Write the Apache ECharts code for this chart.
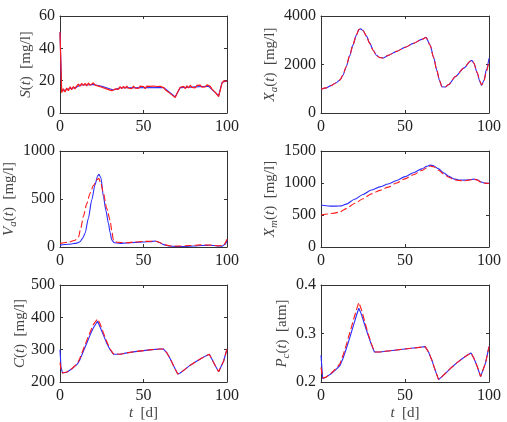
<!DOCTYPE html>
<html>
<head>
<meta charset="utf-8">
<script src="https://cdn.jsdelivr.net/npm/echarts@6/dist/echarts.min.js"></script>
<style>
  html, body { margin: 0; padding: 0; background: #fff; }
  #chart { width: 507px; height: 422px; }
</style>
</head>
<body>
<div id="chart"></div>
<script>
// S(t): noisy measurement (red) and estimate (blue)
const tS = Array.from({ length: 101 }, (_, i) => i)
const sMeas = [50, 12.6, 15, 13, 15.4, 13.8, 16.2, 14.4, 16.4, 14.9,
  16.6, 17.9, 16.5, 18.4, 17, 18.3, 16.8, 18.6, 17.1, 18.2,
  18.7, 17.2, 18.4, 16.6, 17.6, 15.9, 16.9, 15.2, 16.2, 14.5,
  15.4, 13.8, 13.4, 14.9, 15.9, 14.6, 16.3, 15, 16.5, 15.2,
  16.6, 15.3, 16.4, 15.1, 16.7, 15.4, 16.5, 15.2, 16.6, 15.5,
  16.4, 15.1, 16.6, 15.4, 16.5, 15.3, 16.7, 15.5, 16.4, 15.2,
  16.5, 15.6, 15.7, 14.4, 14.3, 12.9, 12.7, 11.2, 11.1, 9.6,
  12.1, 13.9, 15.9, 14.7, 16.5, 15.1, 16.8, 15.5, 17.2, 15.8,
  17, 15.6, 17.1, 15.9, 17.3, 16, 17.2, 16.1, 17.4, 16.2,
  16.5, 14.8, 14.6, 12.8, 11.8, 10.2, 14.3, 18.5, 19.9, 20.2, 19.6]
const tSb = [0, 1, 5, 10, 12, 20, 25, 32, 36, 62, 69, 72, 89, 95, 97, 100]
const sEst = [50, 13.5, 14.8, 16, 17.3, 17.6, 16.5, 14.2, 15.6, 15.8, 10, 15.7, 16.5, 10.8, 18.8, 20]

// X_a(t)
const tXa = [0, 3, 6, 9, 11.3, 13, 15, 17, 19, 21, 22.5, 23.5, 25, 27, 29, 31, 33, 35, 37,
  40, 45, 50, 55, 60, 62.5, 65, 67, 69, 70.5, 72, 74, 76, 80, 85, 89, 89.8, 91, 93, 94.5, 95.6, 97, 98.5, 100]
const xaBlue = [970, 1030, 1130, 1250, 1360, 1550, 1900, 2350, 2800, 3200, 3430, 3470, 3400, 3180, 2880, 2600, 2380, 2290, 2270,
  2375, 2540, 2705, 2870, 3035, 3120, 2800, 2300, 1750, 1350, 1080, 1070, 1170, 1500, 1850, 2140, 2170, 2050, 1650, 1300, 1140, 1350, 1800, 2250]
const xaRed = [975, 1035, 1130, 1250, 1365, 1560, 1910, 2360, 2810, 3210, 3440, 3475, 3400, 3170, 2870, 2590, 2370, 2285, 2270,
  2375, 2540, 2705, 2870, 3035, 3115, 2790, 2290, 1740, 1340, 1080, 1075, 1175, 1505, 1855, 2145, 2175, 2060, 1670, 1330, 1160, 1320, 1720, 2150]

// V_a(t)
const tVa = [0, 5, 10, 12, 13.5, 15, 17, 19, 21, 22.5, 23.3, 24.5, 26, 27.5, 29, 30, 31, 32.5, 36,
  40, 45, 50, 54, 57, 59, 62, 65, 70, 75, 80, 85, 90, 94, 97, 99, 100]
const vaBlue = [20, 28, 40, 55, 90, 142, 300, 490, 650, 740, 757, 720, 524, 380, 246, 150, 73, 45, 38,
  42, 48, 52, 56, 62, 50, 25, 10, 5, 5, 10, 16, 18, 12, 8, 30, 70]
const tVaR = [0, 5, 9, 11, 12.5, 14, 16, 18, 20, 22, 23.2, 24.5, 26, 28, 30, 31, 32, 34,
  40, 45, 50, 55, 58, 60, 63, 67, 72, 78, 84, 90, 95, 98, 100]
const vaRed = [38, 50, 70, 100, 200, 320, 450, 560, 640, 700, 715, 660, 560, 400, 280, 170, 70, 50,
  45, 52, 58, 60, 58, 45, 22, 10, 10, 15, 22, 20, 12, 20, 80]

// X_m(t)
const tXm = [0, 3, 6, 9, 12, 15, 20, 25, 30, 35, 40, 45, 50, 55, 60, 63, 65, 67, 70, 73, 76, 79, 82, 85, 88, 91, 93, 95, 97, 100]
const xmBlue = [656, 645, 638, 638, 642, 670, 745, 820, 890, 940, 985, 1040, 1100, 1160, 1220, 1262, 1280, 1270, 1220, 1160, 1105, 1065, 1048, 1045, 1050, 1060, 1050, 1020, 1000, 995]
const tXmR = [0, 4, 8, 11, 15, 20, 25, 30, 35, 40, 45, 50, 55, 60, 63, 65, 67, 70, 73, 76, 79, 82, 85, 88, 91, 93, 95, 97, 100]
const xmRed = [500, 515, 530, 545, 600, 680, 755, 830, 885, 935, 1000, 1065, 1130, 1195, 1240, 1265, 1255, 1200, 1140, 1090, 1055, 1038, 1035, 1045, 1058, 1048, 1015, 998, 992]

// C(t)
const tC = [0, 0.6, 1.5, 4, 7, 10.5, 12, 14, 16, 18, 20, 22.5, 24, 26, 28, 30, 32, 36, 40, 45, 50, 55, 60, 62,
  64, 66, 68, 70.5, 72, 75, 78, 81, 84, 87, 89.4, 91, 93, 95, 96, 98, 100]
const cBlue = [300, 245, 228, 230, 240, 256, 270, 295, 320, 345, 368, 388, 370, 345, 320, 300, 286, 286, 290, 294, 297, 300, 302, 302,
  290, 272, 250, 225, 228, 240, 252, 262, 271, 280, 286, 270, 250, 232, 230, 265, 302]
const cRed = [260, 238, 228, 231, 241, 258, 275, 302, 328, 354, 378, 395, 380, 352, 325, 302, 287, 286, 290, 294, 297, 300, 302, 302,
  290, 272, 250, 225, 228, 240, 252, 262, 271, 280, 286, 270, 250, 232, 230, 265, 302]

// P_c(t)
const tP = [0, 1, 3, 6, 9, 11.3, 13, 15, 17, 19, 21, 22.5, 24, 26, 28, 30, 31.8, 35, 40, 45, 50, 55, 60, 62,
  64, 66, 68, 70, 72, 75, 78, 81, 84, 87, 89.3, 91, 93, 95, 96, 98, 100]
const pBlue = [0.255, 0.207, 0.21, 0.217, 0.226, 0.234, 0.248, 0.268, 0.29, 0.313, 0.336, 0.352, 0.34, 0.318, 0.297, 0.277, 0.262, 0.262, 0.264, 0.266, 0.268, 0.27, 0.272, 0.273,
  0.262, 0.245, 0.224, 0.205, 0.211, 0.221, 0.231, 0.24, 0.248, 0.255, 0.26, 0.249, 0.232, 0.211, 0.21, 0.24, 0.273]
const pRed = [0.23, 0.208, 0.21, 0.218, 0.228, 0.238, 0.254, 0.276, 0.3, 0.324, 0.348, 0.364, 0.35, 0.325, 0.3, 0.279, 0.262, 0.262, 0.264, 0.266, 0.268, 0.27, 0.272, 0.273,
  0.262, 0.245, 0.224, 0.205, 0.211, 0.221, 0.231, 0.24, 0.248, 0.255, 0.26, 0.249, 0.232, 0.211, 0.21, 0.24, 0.273]

const xTicks = { min: 0, max: 100, interval: 50 }
const yRanges = [
  { min: 0, max: 60, interval: 20 },
  { min: 0, max: 4000, interval: 2000 },
  { min: 0, max: 1000, interval: 500 },
  { min: 0, max: 1500, interval: 500 },
  { min: 200, max: 500, interval: 100 },
  { min: 0.2, max: 0.4, interval: 0.1 }
]
const yNames = [
  '{i|S}{n|(}{i|t}{n|)  [mg/l]}',
  '{i|X}{s|a}{n|(}{i|t}{n|)  [mg/l]}',
  '{i|V}{s|a}{n|(}{i|t}{n|)  [mg/l]}',
  '{i|X}{s|m}{n|(}{i|t}{n|)  [mg/l]}',
  '{i|C}{n|(}{i|t}{n|)  [mg/l]}',
  '{i|P}{s|c}{n|(}{i|t}{n|)  [atm]}'
]
const yNameGaps = [24, 38, 38, 38, 24, 27]

const grids = [
  { left: 60, top: 16, width: 167, height: 97 },
  { left: 321, top: 16, width: 168, height: 97 },
  { left: 60, top: 151, width: 167, height: 96 },
  { left: 321, top: 151, width: 168, height: 96 },
  { left: 60, top: 285, width: 167, height: 97 },
  { left: 321, top: 285, width: 168, height: 97 }
]

const serif = 'Liberation Serif'
const axisColor = '#333'
const rich = {
  i: { fontFamily: serif, fontStyle: 'italic', fontSize: 15, color: '#444', lineHeight: 20 },
  n: { fontFamily: serif, fontSize: 15, color: '#444', lineHeight: 20 },
  s: { fontFamily: serif, fontStyle: 'italic', fontSize: 11, color: '#444', lineHeight: 12, verticalAlign: 'bottom' }
}

const zip = (xs, ys) => xs.map((x, i) => [x, ys[i]])

const xAxis = []
const yAxis = []
grids.forEach((g, i) => {
  const bottomRow = i >= 4
  xAxis.push({
    type: 'value', gridIndex: i, ...xTicks,
    axisLine: { show: true, onZero: false, lineStyle: { color: axisColor } },
    axisTick: { inside: true, length: 3, lineStyle: { color: axisColor } },
    axisLabel: { fontFamily: serif, fontSize: 16, color: '#222', margin: 6, formatter: v => String(v) },
    splitLine: { show: false },
    name: bottomRow ? '{i|t}{n|  [d]}' : '',
    nameLocation: 'middle', nameGap: 21,
    nameTextStyle: { rich }
  })
  yAxis.push({
    type: 'value', gridIndex: i, ...yRanges[i],
    axisLine: { show: true, onZero: false, lineStyle: { color: axisColor } },
    axisTick: { inside: true, length: 3, lineStyle: { color: axisColor } },
    axisLabel: {
      fontFamily: serif, fontSize: 16, color: '#222', margin: 5,
      formatter: i === 5 ? v => v.toFixed(1) : v => String(v)
    },
    splitLine: { show: false },
    name: yNames[i], nameLocation: 'middle', nameRotate: 90, nameGap: yNameGaps[i],
    nameTextStyle: { rich }
  })
})
// mirror axes on top/right for the closed box
grids.forEach((g, i) => {
  xAxis.push({
    type: 'value', gridIndex: i, position: 'top', ...xTicks,
    axisLine: { show: true, onZero: false, lineStyle: { color: axisColor } },
    axisTick: { inside: true, length: 3, lineStyle: { color: axisColor } },
    axisLabel: { show: false }, splitLine: { show: false }
  })
  yAxis.push({
    type: 'value', gridIndex: i, position: 'right', ...yRanges[i],
    axisLine: { show: true, onZero: false, lineStyle: { color: axisColor } },
    axisTick: { inside: true, length: 3, lineStyle: { color: axisColor } },
    axisLabel: { show: false }, splitLine: { show: false }
  })
})

const blue = '#2b2bff'
const red = '#ff1a1a'
function line(idx, data, color, dashed, z) {
  return {
    type: 'line', xAxisIndex: idx, yAxisIndex: idx, data,
    showSymbol: false, smooth: 0.25, smoothMonotone: 'x', z,
    lineStyle: { color, width: 1.1, type: dashed ? [7, 3] : 'solid' },
    animation: false
  }
}

const series = [
  { ...line(0, zip(tSb, sEst), blue, false, 2), smooth: false },
  { ...line(0, zip(tS, sMeas), red, false, 3), smooth: false, lineStyle: { color: red, width: 1.2 } },
  line(1, zip(tXa, xaBlue), blue, false, 2),
  line(1, zip(tXa, xaRed), red, true, 3),
  line(2, zip(tVa, vaBlue), blue, false, 2),
  line(2, zip(tVaR, vaRed), red, true, 3),
  line(3, zip(tXm, xmBlue), blue, false, 2),
  line(3, zip(tXmR, xmRed), red, true, 3),
  { ...line(4, zip(tC, cBlue), blue, false, 2), smooth: false },
  { ...line(4, zip(tC, cRed), red, true, 3), smooth: false },
  { ...line(5, zip(tP, pBlue), blue, false, 2), smooth: false },
  { ...line(5, zip(tP, pRed), red, true, 3), smooth: false }
]

const chart = echarts.init(document.getElementById('chart'), null, { renderer: 'canvas' })
chart.setOption({
  animation: false,
  backgroundColor: '#fff',
  grid: grids.map(g => ({ ...g, containLabel: false })),
  xAxis, yAxis, series
})
</script>
</body>
</html>
